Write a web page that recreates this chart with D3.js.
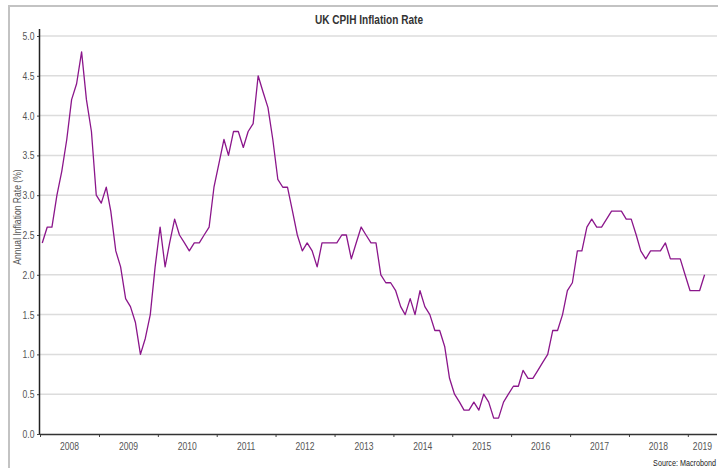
<!DOCTYPE html>
<html>
<head>
<meta charset="utf-8">
<script src="https://cdnjs.cloudflare.com/ajax/libs/d3/7.8.5/d3.min.js"></script>
<style>
	body { margin: 0; background: #fff; }
	svg { display: block; }
	.tick text, .lbl { font-family: "Liberation Sans", Arial, sans-serif; }
</style>
</head>
<body>
<svg id="chart" width="718" height="468"></svg>
<script>
// Monthly annual CPIH rate, Jan 2008 to Apr 2019
const cpih2008 = [2.4, 2.6, 2.6, 3.0, 3.3, 3.7, 4.2, 4.4, 4.8, 4.2, 3.8, 3.0];
const cpih2009 = [2.9, 3.1, 2.8, 2.3, 2.1, 1.7, 1.6, 1.4, 1.0, 1.2, 1.5, 2.1];
const cpih2010 = [2.6, 2.1, 2.4, 2.7, 2.5, 2.4, 2.3, 2.4, 2.4, 2.5, 2.6, 3.1];
const cpih2011 = [3.4, 3.7, 3.5, 3.8, 3.8, 3.6, 3.8, 3.9, 4.5, 4.3, 4.1, 3.7];
const cpih2012 = [3.2, 3.1, 3.1, 2.8, 2.5, 2.3, 2.4, 2.3, 2.1, 2.4, 2.4, 2.4];
const cpih2013 = [2.4, 2.5, 2.5, 2.2, 2.4, 2.6, 2.5, 2.4, 2.4, 2.0, 1.9, 1.9];
const cpih2014 = [1.8, 1.6, 1.5, 1.7, 1.5, 1.8, 1.6, 1.5, 1.3, 1.3, 1.1, 0.7];
const cpih2015 = [0.5, 0.4, 0.3, 0.3, 0.4, 0.3, 0.5, 0.4, 0.2, 0.2, 0.4, 0.5];
const cpih2016 = [0.6, 0.6, 0.8, 0.7, 0.7, 0.8, 0.9, 1.0, 1.3, 1.3, 1.5, 1.8];
const cpih2017 = [1.9, 2.3, 2.3, 2.6, 2.7, 2.6, 2.6, 2.7, 2.8, 2.8, 2.8, 2.7];
const cpih2018 = [2.7, 2.5, 2.3, 2.2, 2.3, 2.3, 2.3, 2.4, 2.2, 2.2, 2.2, 2.0];
const cpih2019 = [1.8, 1.8, 1.8, 2.0];

const years = [2008, 2009, 2010, 2011, 2012, 2013, 2014, 2015, 2016, 2017, 2018, 2019];
const yTicks = [0, 0.5, 1, 1.5, 2, 2.5, 3, 3.5, 4, 4.5, 5];

const series = [cpih2008, cpih2009, cpih2010, cpih2011, cpih2012, cpih2013,
	cpih2014, cpih2015, cpih2016, cpih2017, cpih2018, cpih2019];
const data = [];
series.forEach((vals, yi) => {
	vals.forEach((v, m) => data.push({ date: new Date(years[yi], m, 15), value: v }));
});

const svg = d3.select("#chart");
const plotLeft = 40, plotRight = 717, plotTop = 36, plotBottom = 434;
const narrow = 0.78; // squeeze text, no narrow font installed

// outer frame
svg.append("rect")
	.attr("x", 9).attr("y", 6)
	.attr("width", 730).attr("height", 480)
	.attr("fill", "none")
	.attr("stroke", "#c3c3c3")
	.attr("stroke-width", 2);

const x = d3.scaleTime()
	.domain([new Date(2008, 0, 1), new Date(2019, 6, 1)])
	.range([plotLeft, plotRight]);

const y = d3.scaleLinear()
	.domain([0, 5])
	.range([plotBottom, plotTop]);

// gridlines
svg.append("g")
	.selectAll("line")
	.data(yTicks.filter(d => d > 0))
	.enter().append("line")
	.attr("x1", plotLeft).attr("x2", plotRight)
	.attr("y1", d => y(d)).attr("y2", d => y(d))
	.attr("stroke", "#dcdcdc")
	.attr("stroke-width", 1.5);

// y axis
const yAxis = svg.append("g")
	.attr("transform", `translate(${plotLeft},0)`)
	.call(d3.axisLeft(y).tickValues(yTicks).tickFormat(d3.format(".1f")).tickSize(3).tickPadding(2));
yAxis.select(".domain").remove();
yAxis.append("line")
	.attr("x1", -0.5).attr("x2", -0.5)
	.attr("y1", 29).attr("y2", plotBottom)
	.attr("stroke", "#222").attr("stroke-width", 1.5);
yAxis.selectAll(".tick line").attr("stroke", "#444");
yAxis.selectAll(".tick text")
	.attr("fill", "#555")
	.attr("x", -5.5 / narrow)
	.attr("transform", `scale(${narrow},1)`)
	.style("font-size", "11px");

// x axis, year ticks with labels centred in each year
const xAxis = svg.append("g")
	.attr("transform", `translate(0,${plotBottom})`)
	.call(d3.axisBottom(x).tickValues(years.map(yr => new Date(yr, 0, 1))).tickSize(3).tickFormat(""));
xAxis.select(".domain").remove();
xAxis.append("line")
	.attr("x1", plotLeft).attr("x2", plotRight)
	.attr("y1", 0.5).attr("y2", 0.5)
	.attr("stroke", "#333").attr("stroke-width", 1.5);
xAxis.selectAll(".tick line").attr("stroke", "#444");

xAxis.selectAll(".yearlbl")
	.data(years)
	.enter().append("text")
	.attr("class", "lbl")
	.attr("x", yr => (x(new Date(yr, 0, 1)) + Math.min(plotRight, x(new Date(yr + 1, 0, 1)))) / 2 / narrow)
	.attr("y", 16)
	.attr("transform", `scale(${narrow},1)`)
	.attr("text-anchor", "middle")
	.attr("fill", "#555")
	.style("font-size", "11px")
	.text(yr => yr);

// line
const line = d3.line()
	.x(d => x(d.date))
	.y(d => y(d.value));

svg.append("path")
	.datum(data)
	.attr("d", line)
	.attr("fill", "none")
	.attr("stroke", "#8b168b")
	.attr("stroke-width", 1.3)
	.attr("stroke-linejoin", "round");

// title
svg.append("text")
	.attr("class", "lbl")
	.attr("transform", "translate(369,24) scale(0.84,1)")
	.attr("text-anchor", "middle")
	.attr("fill", "#333")
	.style("font-size", "12px")
	.style("font-weight", "bold")
	.text("UK CPIH Inflation Rate");

// y axis title
svg.append("text")
	.attr("class", "lbl")
	.attr("transform", `translate(21,217) rotate(-90) scale(${narrow},1)`)
	.attr("text-anchor", "middle")
	.attr("fill", "#555")
	.style("font-size", "11px")
	.text("Annual Inflation Rate (%)");

svg.append("text")
	.attr("class", "lbl")
	.attr("transform", "translate(716,466) scale(0.76,1)")
	.attr("text-anchor", "end")
	.attr("fill", "#222")
	.style("font-size", "9.5px")
	.text("Source: Macrobond");
</script>
</body>
</html>
